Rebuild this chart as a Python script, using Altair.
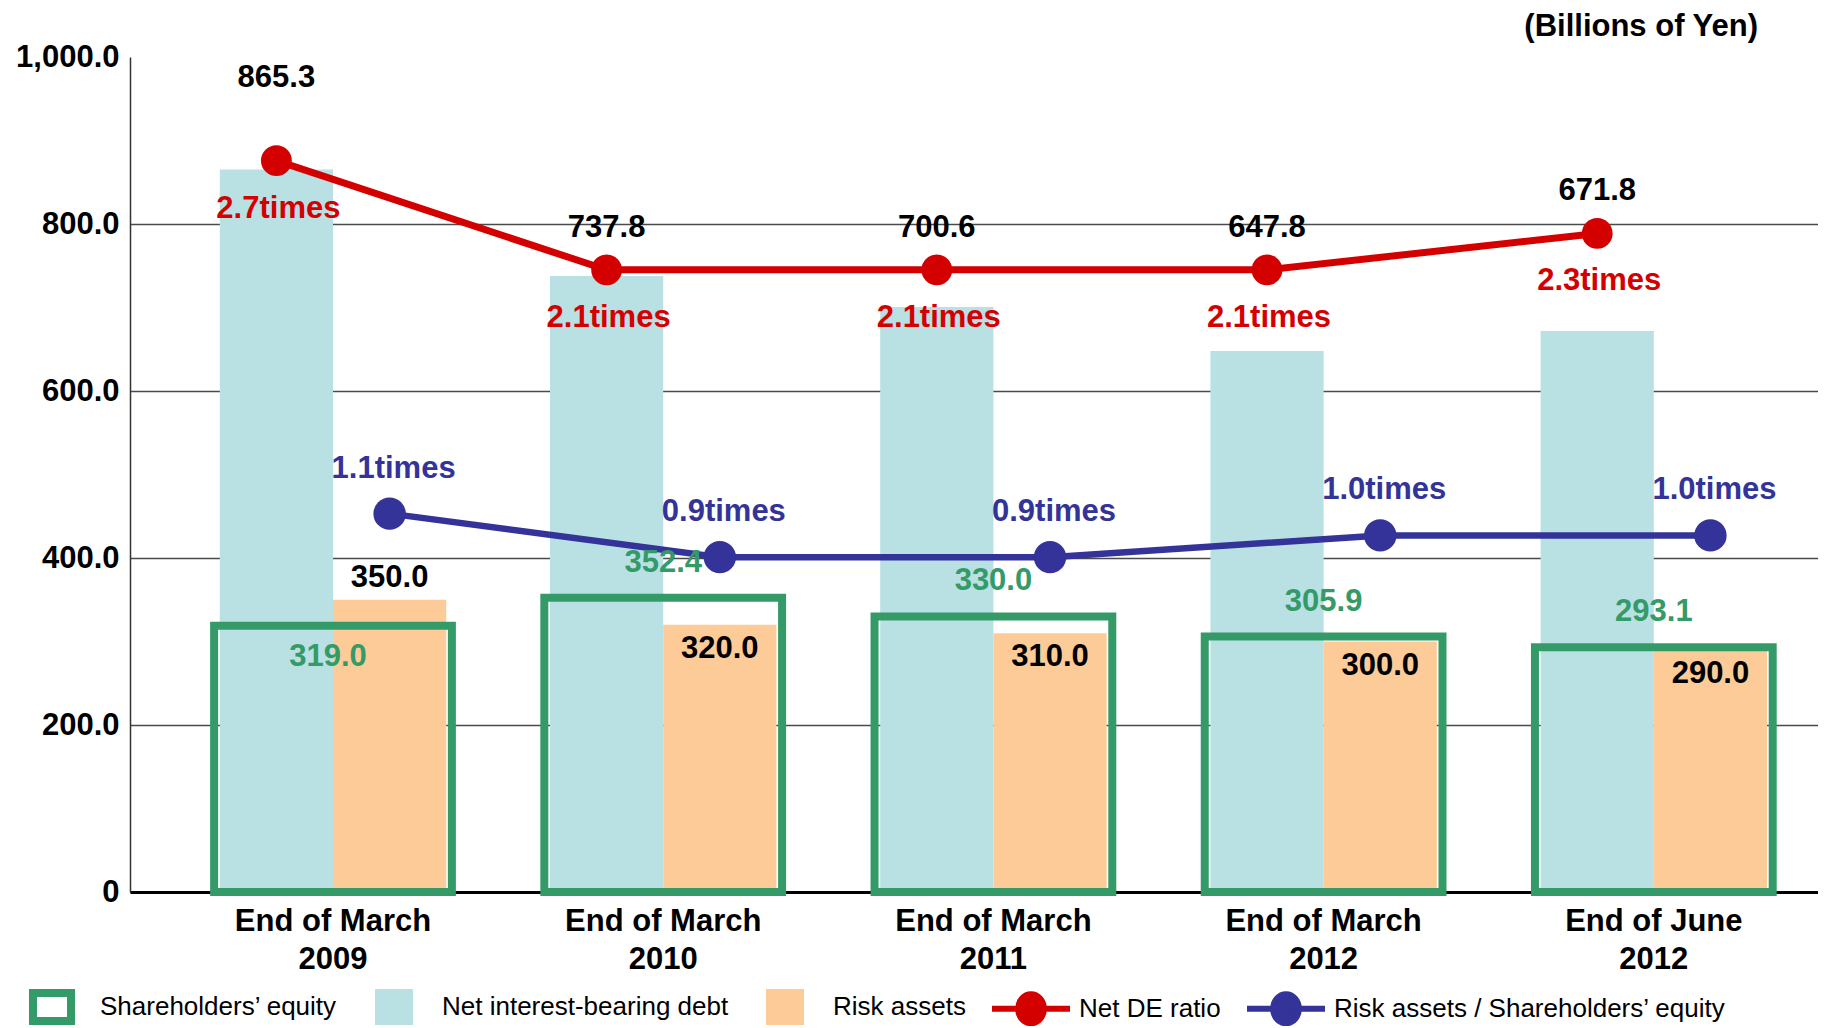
import json
import altair as alt
import pandas as pd

# ---------------- data ----------------
categories = ["End of March\n2009", "End of March\n2010", "End of March\n2011",
              "End of March\n2012", "End of June\n2012"]
net_debt = [865.3, 737.8, 700.6, 647.8, 671.8]
risk_assets = [350.0, 320.0, 310.0, 300.0, 290.0]
equity = [319.0, 352.4, 330.0, 305.9, 293.1]
net_de_ratio = [2.7, 2.1, 2.1, 2.1, 2.3]
risk_equity_ratio = [1.1, 0.9, 0.9, 1.0, 1.0]

legend_names = ["Shareholders’ equity", "Net interest-bearing debt", "Risk assets",
                "Net DE ratio", "Risk assets / Shareholders’ equity"]
legend_colors = ["#349A68", "#B9E0E3", "#FCCB98", "#D40000", "#333399"]

y_ticks = [0, 200, 400, 600, 800, 1000]

# ---------------- tables ----------------
FONT = "Liberation Sans"
GREEN, BLUE_BAR, ORANGE, RED, NAVY = legend_colors
n = len(categories)

wide = pd.DataFrame({
    "cat": categories,
    "idx": list(range(n)),
    "debt": net_debt,
    "risk": risk_assets,
    "equity": equity,
    "de": net_de_ratio,
    "re": risk_equity_ratio,
})
wide["slot_debt"] = "debt"
wide["slot_risk"] = "risk"

bars_df = pd.DataFrame({
    "cat": categories * 2,
    "idx": list(range(n)) * 2,
    "slot": ["debt"] * n + ["risk"] * n,
    "series": [legend_names[1]] * n + [legend_names[2]] * n,
    "value": net_debt + risk_assets,
})

# ---------------- scales / axes ----------------
xscale = alt.Scale(domain=categories, paddingInner=0.28, paddingOuter=0.196, align=0.65)
xaxis = alt.Axis(title=None, labelExpr="split(datum.label, '\\n')", labelFont=FONT,
                 labelFontSize=31, labelFontWeight="bold", labelColor="black",
                 labelLineHeight=38, labelPadding=14, labelAngle=0, ticks=False,
                 domainColor="black", domainWidth=3, grid=False, labelLimit=400)
X = alt.X("cat:N", scale=xscale, axis=xaxis)
offscale = alt.Scale(domain=["debt", "risk"], paddingInner=0, paddingOuter=0.05)

u_scale = alt.Scale(domain=[0, 1000], nice=False, zero=True)
de_scale = alt.Scale(domain=[-1.32, 3.27], nice=False, zero=False)
re_scale = alt.Scale(domain=[-0.64, 3.2], nice=False, zero=False)

yaxis = alt.Axis(title=None, values=y_ticks,
                 labelExpr="datum.value == 0 ? '0' : format(datum.value, ',.1f')",
                 labelFont=FONT, labelFontSize=31, labelFontWeight="bold", labelColor="black",
                 labelPadding=11, ticks=False, domainColor="#333333", domainWidth=1.5,
                 grid=True, gridColor="#4a4a4a", gridWidth=1.5,
                 gridOpacity={"condition": {"test": "datum.value >= 1000", "value": 0}, "value": 1})

# ---------------- legend (single, custom symbols) ----------------
names_js = json.dumps(legend_names, ensure_ascii=False)
colors_js = json.dumps(legend_colors)
K = f"indexof({names_js}, datum.value)"
# symbol paths are normalised to [-1, 1] of a 78px symbol box
SQ_EQ = ("M-0.59,-0.46H0.59V0.46H-0.59Z"
         "M-0.385,-0.255V0.255H0.385V-0.255Z")
SQ = "M-0.487,-0.46H0.487V0.46H-0.487Z"
LN = "M-1,0H1M0.33,0A0.33,0.37,0,1,1,-0.33,0A0.33,0.37,0,1,1,0.33,0Z"

legend = alt.Legend(
    title=None, orient="none", legendX=-120, legendY=908, direction="horizontal",
    columns=5, symbolSize=6084, symbolStrokeWidth=6,
    symbolType={"expr": f"{K} >= 3 ? '{LN}' : ({K} == 0 ? '{SQ_EQ}' : '{SQ}')"},
    symbolFillColor={"expr": f"{colors_js}[{K}]"},
    symbolStrokeColor={"expr": f"{K} >= 3 ? {colors_js}[{K}] : 'transparent'"},
    symbolOffset=0, labelOffset=6, columnPadding=14, rowPadding=0, padding=0,
    labelFont=FONT, labelFontSize=26, labelColor="black", labelLimit=600,
)

# ---------------- layers ----------------
bars = alt.Chart(bars_df).mark_bar().encode(
    x=X,
    xOffset=alt.XOffset("slot:N", scale=offscale),
    y=alt.Y("value:Q", scale=u_scale, axis=yaxis),
    color=alt.Color("series:N", scale=alt.Scale(domain=legend_names[1:3], range=legend_colors[1:3]),
                    legend=None),
    opacity=alt.Opacity("series:O", scale=alt.Scale(domain=legend_names, range=[1] * 5),
                        legend=legend),
)

box = alt.Chart(wide).mark_bar(filled=False, color=GREEN, strokeWidth=8).encode(
    x=X,
    y=alt.Y("equity:Q", scale=u_scale, axis=None),
)

red_line = alt.Chart(wide).mark_line(color=RED, strokeWidth=7).encode(
    x=X, xOffset=alt.XOffset("slot_debt:N", scale=offscale),
    y=alt.Y("de:Q", scale=de_scale, axis=None), order=alt.Order("idx:Q"),
)
red_pts = alt.Chart(wide).mark_circle(color=RED, size=950, opacity=1).encode(
    x=X, xOffset=alt.XOffset("slot_debt:N", scale=offscale),
    y=alt.Y("de:Q", scale=de_scale, axis=None),
)
blue_line = alt.Chart(wide).mark_line(color=NAVY, strokeWidth=6.5).encode(
    x=X, xOffset=alt.XOffset("slot_risk:N", scale=offscale),
    y=alt.Y("re:Q", scale=re_scale, axis=None), order=alt.Order("idx:Q"),
)
blue_pts = alt.Chart(wide).mark_circle(color=NAVY, size=1050, opacity=1).encode(
    x=X, xOffset=alt.XOffset("slot_risk:N", scale=offscale),
    y=alt.Y("re:Q", scale=re_scale, axis=None),
)


def text_layer(y, yscale, text, color, dy, dx=0, xoff=None, filt=None, calc=None):
    base = alt.Chart(wide)
    if calc:
        base = base.transform_calculate(**calc)
    if filt:
        base = base.transform_filter(filt)
    enc = dict(x=X, y=alt.Y(y, scale=yscale, axis=None), text=text)
    if xoff:
        enc["xOffset"] = alt.XOffset(xoff, scale=offscale)
    return base.mark_text(font=FONT, fontSize=31, fontWeight="bold", color=color,
                          dy=dy, dx=dx).encode(**enc)


debt_txt_first = text_layer("de:Q", de_scale, alt.Text("debt:Q", format=".1f"), "black", -83,
                            xoff="slot_debt:N", filt="datum.idx == 0")
debt_txt = text_layer("de:Q", de_scale, alt.Text("debt:Q", format=".1f"), "black", -42,
                      xoff="slot_debt:N", filt="datum.idx > 0")
de_txt = text_layer("de:Q", de_scale, alt.Text("t:N"), RED, 48, dx=2, xoff="slot_debt:N",
                    calc={"t": "format(datum.de, '.1f') + 'times'"})
re_txt = text_layer("re:Q", re_scale, alt.Text("t:N"), NAVY, -45, dx=4, xoff="slot_risk:N",
                    calc={"t": "format(datum.re, '.1f') + 'times'"})
eq_txt_first = text_layer("equity:Q", u_scale, alt.Text("equity:Q", format=".1f"), GREEN, 31,
                          dx=-5, filt="datum.idx == 0")
eq_txt = text_layer("equity:Q", u_scale, alt.Text("equity:Q", format=".1f"), GREEN, -35,
                    filt="datum.idx > 0")
risk_txt_first = text_layer("risk:Q", u_scale, alt.Text("risk:Q", format=".1f"), "black", -22,
                            xoff="slot_risk:N", filt="datum.idx == 0")
risk_txt = text_layer("risk:Q", u_scale, alt.Text("risk:Q", format=".1f"), "black", 24,
                      xoff="slot_risk:N", filt="datum.idx > 0")

chart = alt.layer(
    bars, box, red_line, blue_line, red_pts, blue_pts,
    debt_txt_first, debt_txt, de_txt, re_txt, eq_txt_first, eq_txt, risk_txt_first, risk_txt,
).resolve_scale(y="independent").properties(
    width=1688, height=835,
    autosize=alt.AutoSizeParams(type="none"),
    padding={"left": 122, "top": 49, "right": 0, "bottom": 134},
    title=alt.TitleParams("(Billions of Yen)", anchor="end", frame="group", font=FONT,
                          fontSize=31, fontWeight="bold", color="black", dx=-60, dy=6,
                          offset=4),
).configure_view(strokeWidth=0)

chart.save("out.html", embed_options={"renderer": "svg", "actions": False})
